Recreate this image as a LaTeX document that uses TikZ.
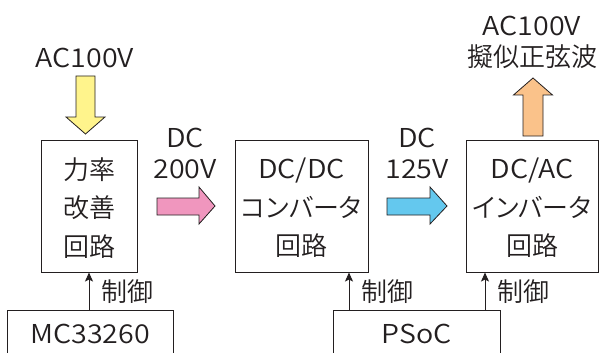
\documentclass[tikz,border=0pt]{standalone}
\usepackage{fontspec}
\setmainfont{Noto Sans CJK JP}[UprightFont=* DemiLight,FakeStretch=1.1]
\newfontfamily\cjk{Noto Sans CJK JP}[UprightFont=* DemiLight,RawFeature=+palt]
\usetikzlibrary{arrows.meta}
\definecolor{lineC}{RGB}{35,31,32}
\definecolor{yelC}{RGB}{255,244,140}
\definecolor{pinkC}{RGB}{240,150,190}
\definecolor{blueC}{RGB}{100,200,238}
\definecolor{oraC}{RGB}{250,194,138}
\tikzset{
  blockbox/.style={draw=lineC,line width=1pt,inner sep=0pt,align=center,
    font=\fontsize{26}{38.5}\selectfont,text=lineC},
  lbl/.style={inner sep=0pt,align=center,font=\fontsize{26}{31}\selectfont,text=lineC},
  fat/.style={draw=lineC,line width=0.8pt},
  ctrl/.style={draw=lineC,line width=1pt,-{Stealth[length=9pt,width=8pt,inset=2pt]}}
}
\begin{document}
\begin{tikzpicture}[x=1pt,y=-1pt]
\useasboundingbox (0,0) rectangle (600,353);
% blocks
\node[blockbox,minimum width=96,minimum height=132] (b1) at (89,206) {};
\node[blockbox,minimum width=133,minimum height=132] (b2) at (301.5,206) {};
\node[blockbox,minimum width=132,minimum height=132] (b3) at (532,206) {};
\node[blockbox,align=center,draw=none] (b1t) at (89,208) {\cjk 力率\\\cjk 改善\\\cjk 回路};
\node[blockbox,align=center,draw=none] (b2t) at (301.5,208) {DC/DC\\\cjk コンバータ\\\cjk 回路};
\node[blockbox,align=center,draw=none] (b3t) at (532,208) {DC/AC\\\cjk インバータ\\\cjk 回路};
\node[blockbox,minimum width=166,minimum height=80] (mc) at (90,350) {};
\node[blockbox,minimum width=167,minimum height=80] (ps) at (416.5,350) {};
\node[lbl] (mct) at (90,334) {MC33260};
\node[lbl] (pst) at (416.5,334) {PSoC};
% labels
\node[lbl] (acin) at (85,58) {AC100V};
\node[lbl] (acout) at (532,42) {AC100V\\\cjk 擬似正弦波};
\node[lbl] (dc200) at (185,153) {DC\\200V};
\node[lbl] (dc125) at (417,153) {DC\\125V};
% fat arrows
\filldraw[fat,fill=yelC] (76,76) -- (95,76) -- (95,117) -- (105,117) -- (85.5,134) -- (66,117) -- (76,117) -- cycle;
\filldraw[fat,fill=pinkC] (157,198) -- (199,198) -- (199,187) -- (215,206) -- (199,224) -- (199,215) -- (157,215) -- cycle;
\filldraw[fat,fill=blueC] (387,198) -- (430,198) -- (430,187) -- (447,206) -- (430,224) -- (430,215) -- (387,215) -- cycle;
\filldraw[fat,fill=oraC] (523,136) -- (543,136) -- (543,95) -- (552.5,95) -- (533,78) -- (513.5,95) -- (523,95) -- cycle;
% control arrows
\coordinate (c2) at (349,0);
\coordinate (c3) at (485,0);
\draw[ctrl] (mc.north -| b1.south) -- (b1.south);
\draw[ctrl] (ps.north -| c2) -- (b2.south -| c2);
\draw[ctrl] (ps.north -| c3) -- (b3.south -| c3);
\node[lbl,anchor=west] (k1) at (101,292) {\cjk 制御};
\node[lbl,anchor=west] (k2) at (361,292) {\cjk 制御};
\node[lbl,anchor=west] (k3) at (497,292) {\cjk 制御};
\end{tikzpicture}
\end{document}
